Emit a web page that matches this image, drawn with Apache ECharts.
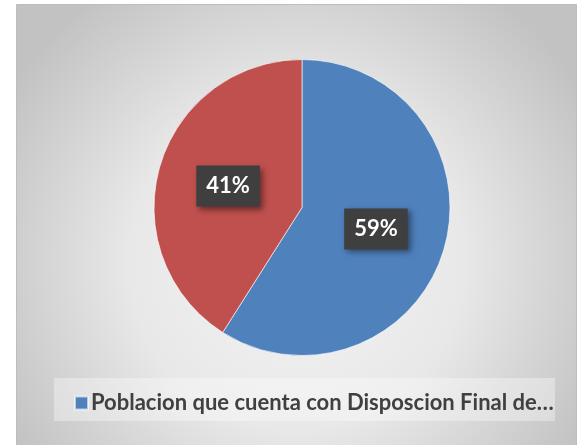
<!DOCTYPE html>
<html>
<head>
<meta charset="utf-8">
<script src="https://cdn.jsdelivr.net/npm/echarts@6/dist/echarts.min.js"></script>
<style>
html,body{margin:0;padding:0;background:#fff;}
#c{width:578px;height:445px;}
</style>
</head>
<body>
<div id="c"></div>
<script>
var categories = ['Poblacion que cuenta con Disposcion Final de…', 'Poblacion que no cuenta con Disposcion Final'];
var values = [59, 41];
var colors = ['#4F81BD', '#C0504D'];
var legendItems = [categories[0]];

var chart = echarts.init(document.getElementById('c'));
var font = 'Lato, "Open Sans", sans-serif';
chart.setOption({
  backgroundColor: '#ffffff',
  animation: false,
  graphic: [
    {
      type: 'rect', z: -10, silent: true,
      shape: {x: 16.5, y: 4.5, width: 560, height: 445},
      style: {
        fill: {
          type: 'radial', x: 0.5, y: 0.58, r: 0.75,
          colorStops: [{offset: 0, color: '#f4f4f4'}, {offset: 0.5, color: '#e8e8e8'}, {offset: 1, color: '#c2c2c2'}]
        },
        stroke: '#bdbdbd', lineWidth: 1
      }
    },
    {
      type: 'rect', z: -9, silent: true,
      shape: {x: 54, y: 378, width: 501, height: 43},
      style: {fill: 'rgba(255,255,255,0.35)'}
    }
  ],
  legend: {
    data: legendItems,
    left: 69, top: 387,
    icon: 'rect', itemWidth: 13, itemHeight: 13, itemGap: 5,
    textStyle: {fontFamily: font, fontWeight: 'bold', fontSize: 22, color: '#404040', padding: [0,0,0,-2]}
  },
  series: [{
    type: 'pie',
    center: [302, 207.5],
    radius: 148,
    startAngle: 90,
    clockwise: true,
    data: categories.map(function (c, i) {
      return {name: c, value: values[i], itemStyle: {color: colors[i]}};
    }),
    itemStyle: {borderColor: 'rgba(255,255,255,0.6)', borderWidth: 1},
    label: {
      position: 'inside',
      formatter: function (p) { return Math.round(p.percent) + '%'; },
      fontFamily: font, fontWeight: 'bold', fontSize: 22, color: '#ffffff',
      backgroundColor: '#3f3f3f',
      padding: [10, 10, 9, 10],
      shadowColor: 'rgba(0,0,0,0.45)', shadowBlur: 6, shadowOffsetX: 3, shadowOffsetY: 3
    },
    labelLine: {show: false},
    emphasis: {disabled: true}
  }]
});
</script>
</body>
</html>
